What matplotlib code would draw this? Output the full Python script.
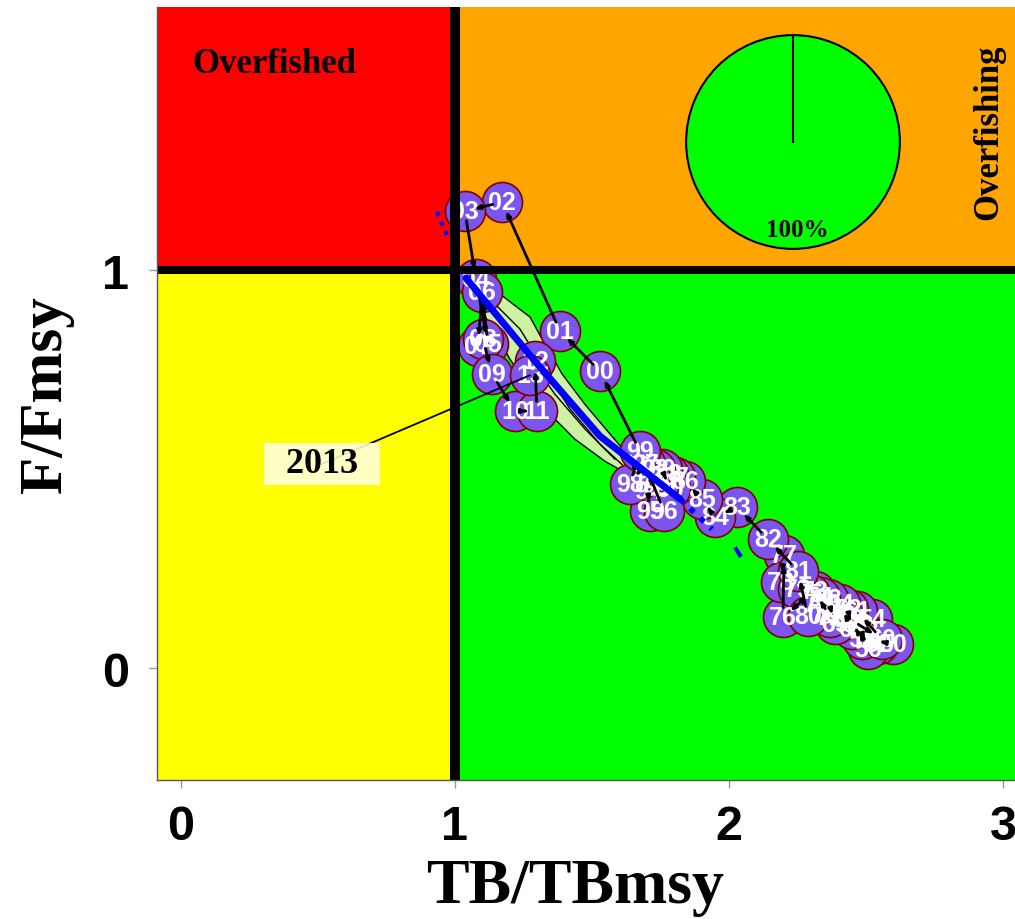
import math
import matplotlib
matplotlib.use("Agg")
import matplotlib.pyplot as plt
from matplotlib.patches import Rectangle, Polygon

# ---------------- data ----------------
years = list(range(1950, 2014))
tb_ratio = [2.599, 2.515, 2.544, 2.496, 2.522, 2.478, 2.507, 2.460, 2.485, 2.442,
            2.558, 2.467, 2.434, 2.449, 2.405, 2.423, 2.398, 2.380, 2.361, 2.387,
            2.350, 2.325, 2.369, 2.314, 2.332, 2.296, 2.197, 2.201, 2.190, 2.252,
            2.288, 2.252, 2.142, 2.029, 1.949, 1.901, 1.839, 1.803, 1.777, 1.755,
            1.785, 1.741, 1.730, 1.712, 1.704, 1.712, 1.763, 1.693, 1.639, 1.675,
            1.529, 1.383, 1.172, 1.036, 1.077, 1.120, 1.099, 1.084, 1.102, 1.135,
            1.219, 1.299, 1.292, 1.274]
f_ratio = [0.060, 0.073, 0.060, 0.093, 0.123, 0.103, 0.048, 0.111, 0.073, 0.123,
           0.073, 0.143, 0.148, 0.098, 0.161, 0.123, 0.136, 0.148, 0.173, 0.111,
           0.136, 0.161, 0.128, 0.193, 0.178, 0.186, 0.128, 0.284, 0.216, 0.198,
           0.131, 0.244, 0.324, 0.405, 0.379, 0.425, 0.470, 0.480, 0.487, 0.500,
           0.450, 0.455, 0.500, 0.480, 0.445, 0.394, 0.394, 0.513, 0.462, 0.545,
           0.746, 0.847, 1.171, 1.148, 0.977, 0.814, 0.945, 0.809, 0.827, 0.739,
           0.646, 0.646, 0.771, 0.736]

# uncertainty region of the final year (outline) and inner contours
band_x = [1.055, 1.164, 1.274, 1.328, 1.391, 1.474, 1.566, 1.639, 1.631,
          1.547, 1.438, 1.347, 1.274, 1.201, 1.128, 1.069]
band_y = [0.970, 0.940, 0.882, 0.814, 0.739, 0.663, 0.588, 0.530, 0.487,
          0.520, 0.575, 0.638, 0.701, 0.776, 0.864, 0.927]
cont1_x = [1.128, 1.237, 1.328, 1.420, 1.529, 1.620]
cont1_y = [0.927, 0.852, 0.751, 0.651, 0.563, 0.505]
cont2_x = [1.091, 1.182, 1.274, 1.365, 1.474, 1.584]
cont2_y = [0.940, 0.864, 0.776, 0.688, 0.601, 0.525]

# blue trend line (solid part, dotted part, stray dashes)
blue_x = [1.040, 1.292, 1.529, 1.821]
blue_y = [0.980, 0.771, 0.583, 0.425]
blue_dot_x = [1.821, 1.938]
blue_dot_y = [0.425, 0.349]
blue_dash1_x = [0.934, 0.971]
blue_dash1_y = [1.146, 1.088]
blue_dash2_x = [2.026, 2.040]
blue_dash2_y = [0.299, 0.284]

# pie: share of final-year estimates in each quadrant
pie_share = [100]
pie_colors = ["#00FF00"]
pie_label = "100%"

x_ticks = [0, 1, 2, 3]
y_ticks = [0, 1]
last_year_label = "2013"
last_label_pos = (0.515, 0.513)

# ---------------- figure ----------------
W, H = 1015, 920
fig = plt.figure(figsize=(W / 100, H / 100), dpi=100)
ax = fig.add_axes([157 / W, 1 - 781 / H, (W - 157) / W, (781 - 8) / H])
xmin, xmax = -0.0876, 3.044
ymin, ymax = -0.281, 1.661
ax.set_xlim(xmin, xmax)
ax.set_ylim(ymin, ymax)

# quadrants
ax.add_patch(Rectangle((xmin, 1), 1 - xmin, ymax - 1, color="#FF0000", zorder=0))
ax.add_patch(Rectangle((1, 1), xmax - 1, ymax - 1, color="#FFA500", zorder=0))
ax.add_patch(Rectangle((xmin, ymin), 1 - xmin, 1 - ymin, color="#FFFF00", zorder=0))
ax.add_patch(Rectangle((1, ymin), xmax - 1, 1 - ymin, color="#00FF00", zorder=0))

# quadrant titles
ax.text(0.04, 1.52, "Overfished", family="Liberation Serif", fontweight="bold",
        fontsize=25, color="black", ha="left", va="center", zorder=3)
ax.text(2.95, 1.35, "Overfishing", family="Liberation Serif", fontweight="bold",
        fontsize=25, color="black", ha="center", va="center", rotation=90, zorder=3)

# uncertainty region
ax.add_patch(Polygon(list(zip(band_x, band_y)), closed=True, facecolor="#CDF2A2",
                     edgecolor="black", lw=1.0, zorder=2))
ax.plot(cont1_x, cont1_y, color="black", lw=1.0, zorder=2.1)
ax.plot(cont2_x, cont2_y, color="black", lw=1.0, zorder=2.1)

# points and labels
ax.scatter(tb_ratio, f_ratio, s=830, facecolor="#7B55EE", edgecolor="#800000",
           linewidth=1.2, zorder=4)
for xv, yv, yr in zip(tb_ratio, f_ratio, years):
    ax.text(xv, yv, f"{yr % 100:02d}", color="white", fontsize=18,
            family="Liberation Sans", fontweight="bold", ha="center", va="center",
            zorder=5)

# trajectory arrows (only where the step is long enough to show)
to_px = ax.transData.transform
for i in range(1, len(years)):
    p0 = to_px((tb_ratio[i - 1], f_ratio[i - 1]))
    p1 = to_px((tb_ratio[i], f_ratio[i]))
    dist = math.hypot(p1[0] - p0[0], p1[1] - p0[1])
    if dist < 20:
        continue
    ax.annotate("", xy=(tb_ratio[i], f_ratio[i]), xytext=(tb_ratio[i - 1], f_ratio[i - 1]),
                arrowprops=dict(arrowstyle="-|>,head_length=0.3,head_width=0.12",
                                lw=2.0, color="black", shrinkA=7, shrinkB=7),
                zorder=6)

# blue line
ax.plot(blue_x, blue_y, color="#0000FF", lw=5, solid_capstyle="round", zorder=7)
ax.plot(blue_dot_x, blue_dot_y, color="#0000FF", lw=4, ls=(0, (1, 1.5)), zorder=7)
ax.plot(blue_dash1_x, blue_dash1_y, color="#0000FF", lw=3, ls=(0, (1, 1.5)), zorder=7)
ax.plot(blue_dash2_x, blue_dash2_y, color="#0000FF", lw=3, zorder=7)

# label for last year
ax.annotate("  " + last_year_label + "  ", xy=(tb_ratio[-1], f_ratio[-1]),
            xytext=last_label_pos, family="Liberation Serif", fontweight="bold",
            fontsize=26, ha="center", va="center",
            bbox=dict(boxstyle="square,pad=0.12", facecolor="#FFFFE0", edgecolor="none",
                      alpha=0.88),
            arrowprops=dict(arrowstyle="-", lw=1.3, color="black", patchA=None,
                            shrinkA=0, shrinkB=0),
            zorder=9)

# reference lines
ax.axvline(1, color="black", lw=7.2, zorder=10)
ax.axhline(1, color="black", lw=5.8, zorder=10)

# axes styling
for side in ["top", "right"]:
    ax.spines[side].set_visible(False)
for side in ["left", "bottom"]:
    ax.spines[side].set_color("#555555")
    ax.spines[side].set_linewidth(1.0)
    ax.spines[side].set_zorder(11)
ax.set_xticks(x_ticks)
ax.set_yticks(y_ticks)
ax.set_xticklabels([str(v) for v in x_ticks])
ax.set_yticklabels([str(v) for v in y_ticks])
ax.tick_params(axis="both", direction="out", length=6, width=1, color="#999999",
               labelsize=35)
ax.tick_params(axis="x", pad=11)
ax.tick_params(axis="y", pad=14)
for lab in ax.get_xticklabels() + ax.get_yticklabels():
    lab.set_family(["Liberation Sans Narrow", "Liberation Sans"])
    lab.set_fontweight("bold")

fig.text(575 / W, 1 - 888 / H, "TB/TBmsy", family="Liberation Serif",
         fontweight="bold", fontsize=46, ha="center", va="center")
fig.text(46 / W, 1 - 395 / H, "F/Fmsy", family="Liberation Serif",
         fontweight="bold", fontsize=44, ha="center", va="center", rotation=90)

# pie inset
pax = fig.add_axes([(793 - 109) / W, 1 - (143 + 109) / H, 218 / W, 218 / H])
pax.pie(pie_share, colors=pie_colors, startangle=90, counterclock=False,
        wedgeprops=dict(edgecolor="black", linewidth=1.5))
pax.plot([0, 0], [0, 1], color="black", lw=1.5)
pax.text(0.04, -0.82, pie_label, family="Liberation Serif", fontweight="bold",
         fontsize=18, ha="center", va="center")
pax.set_xlim(-1.02, 1.02)
pax.set_ylim(-1.02, 1.02)
pax.set_aspect("equal")
pax.axis("off")

fig.savefig("out.png", dpi=100)
